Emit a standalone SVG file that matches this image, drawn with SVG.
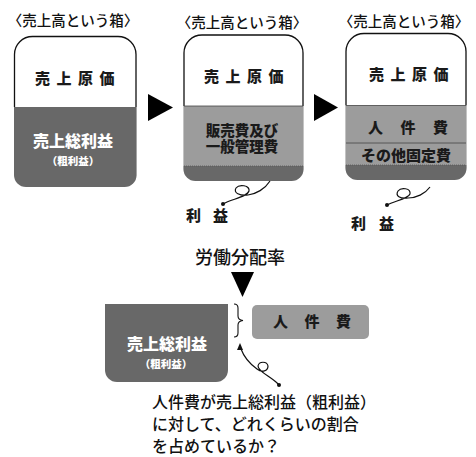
<svg xmlns="http://www.w3.org/2000/svg" width="476" height="457" viewBox="0 0 476 457">
<style>
.t{font-family:"Noto Sans CJK JP","Noto Sans",sans-serif;}
.title{font-size:14.5px;font-weight:500;fill:#111;text-anchor:middle;}
.lb{font-size:15px;font-weight:900;fill:#1a1a1a;}
.lw{font-size:16px;font-weight:900;fill:#fff;text-anchor:middle;}
.sw{font-size:10.5px;font-weight:900;fill:#fff;text-anchor:middle;}
.top{fill:#fff;stroke:#111;stroke-width:1.3;}
.dark{fill:#686868;}
.mid{fill:#9c9c9c;}
.sep{stroke:#444;stroke-width:0.8;fill:none;}
.dot{stroke:#555;stroke-width:0.8;stroke-dasharray:1 1;fill:none;}
.curl{fill:none;stroke:#111;stroke-width:1.2;}
.big{font-size:18px;font-weight:500;fill:#111;}
.q{font-size:16px;font-weight:500;fill:#111;}
</style>
<g id="box1">
<text class="t title" x="73" y="26">〈売上高という箱〉</text>
<path class="top" d="M14.5,107 V54.5 A18,18 0 0 1 32.5,36.5 H118 A18,18 0 0 1 136,54.5 V107"/>
<path class="dark" d="M14,107 H136.6 V175 A12,12 0 0 1 124.6,187 H26 A12,12 0 0 1 14,175 Z"/>
<text class="t lb" x="35" y="84" letter-spacing="6.5">売上原価</text>
<text class="t lw" x="73" y="147">売上総利益</text>
<text class="t sw" x="73" y="165">（粗利益）</text>
</g>
<g id="box2">
<text class="t title" x="242" y="28">〈売上高という箱〉</text>
<path class="top" d="M184,106 V53 A18,18 0 0 1 202,35 H285 A18,18 0 0 1 303,53 V106"/>
<path class="mid" d="M183.4,106 H303.6 V166 H183.4 Z"/>
<path class="dark" d="M183.4,166 H303.6 V169 A12,12 0 0 1 291.6,181 H195.4 A12,12 0 0 1 183.4,169 Z"/>
<line class="sep" x1="184" y1="106" x2="303" y2="106"/>
<line class="dot" x1="184" y1="166" x2="303" y2="166"/>
<text class="t lb" x="204" y="82" letter-spacing="6.5">売上原価</text>
<text class="t lb" x="242" y="136" text-anchor="middle" style="font-size:14.5px">販売費及び<tspan x="242" y="152">一般管理費</tspan></text>
<text class="t lb" x="186" y="221" letter-spacing="12">利益</text>
</g>
<g id="box3">
<text class="t title" x="404" y="27">〈売上高という箱〉</text>
<path class="top" d="M346,105.5 V51.5 A18,18 0 0 1 364,33.5 H448 A18,18 0 0 1 466,51.5 V105.5"/>
<path class="mid" d="M345.4,105.5 H466.6 V165 H345.4 Z"/>
<path class="dark" d="M345.4,165 H466.6 V168 A12,12 0 0 1 454.6,180 H357.4 A12,12 0 0 1 345.4,168 Z"/>
<line class="sep" x1="346" y1="105.5" x2="466" y2="105.5"/>
<line class="sep" x1="346" y1="143" x2="466" y2="143"/>
<line class="dot" x1="346" y1="165" x2="466" y2="165"/>
<text class="t lb" x="369" y="80" letter-spacing="6.5">売上原価</text>
<text class="t lb" x="368" y="133" letter-spacing="17.5">人件費</text>
<text class="t lb" x="406" y="161" text-anchor="middle">その他固定費</text>
<text class="t lb" x="351" y="229" letter-spacing="13">利益</text>
</g>
<g id="bottom-gross">
<path class="dark" d="M105,304 H228 V370 A12,12 0 0 1 216,382 H117 A12,12 0 0 1 105,370 Z"/>
<text class="t lw" x="167" y="350">売上総利益</text>
<text class="t sw" x="166" y="368">（粗利益）</text>
</g>
<g id="bottom-labor">
<rect class="mid" x="252" y="305" width="117" height="34" rx="5"/>
<text class="t lb" x="273" y="327" letter-spacing="16.5">人件費</text>
</g>
<g id="labels">
<text class="t big" x="240" y="264" text-anchor="middle">労働分配率</text>
<text class="t q" x="152" y="408">人件費が売上総利益（粗利益）<tspan x="152" y="430">に対して、どれくらいの割合</tspan><tspan x="152" y="452">を占めているか？</tspan></text>
</g>
<g id="connectors">
<polygon points="148,94 148,121 173,107.5" fill="#000"/>
<polygon points="314,94 314,121 338,107.5" fill="#000"/>
<polygon points="231,272 254,272 242.5,297" fill="#000"/>
<path d="M234,304 Q238,304 238,308 V316 Q238,320 243,320.5 Q238,321 238,325 V333 Q238,337 234,337" fill="none" stroke="#111" stroke-width="1.1"/>
<path class="curl" d="M270,181 C265,189 256,194 248,195 C240,196 233,193 236,188 C239,184 250,185 249,191 C247,197 232,199 223,204"/>
<circle cx="223" cy="204" r="2" fill="#111"/>
<path class="curl" d="M430,187 C425,194 416,198 408,198 C400,199 395,196 398,191 C401,187 411,188 410,194 C408,199 394,201 387,205"/>
<circle cx="387" cy="205" r="2" fill="#111"/>
<path class="curl" d="M241,349 C244,357 250,364 257,369 C262,373 268,371 268,366 C267,361 259,361 258,366 C258,372 272,377 279,385"/>
<polygon points="240,343 237,350 243,350" fill="#111"/>
<circle cx="279" cy="385" r="2" fill="#111"/>
</g>
</svg>
